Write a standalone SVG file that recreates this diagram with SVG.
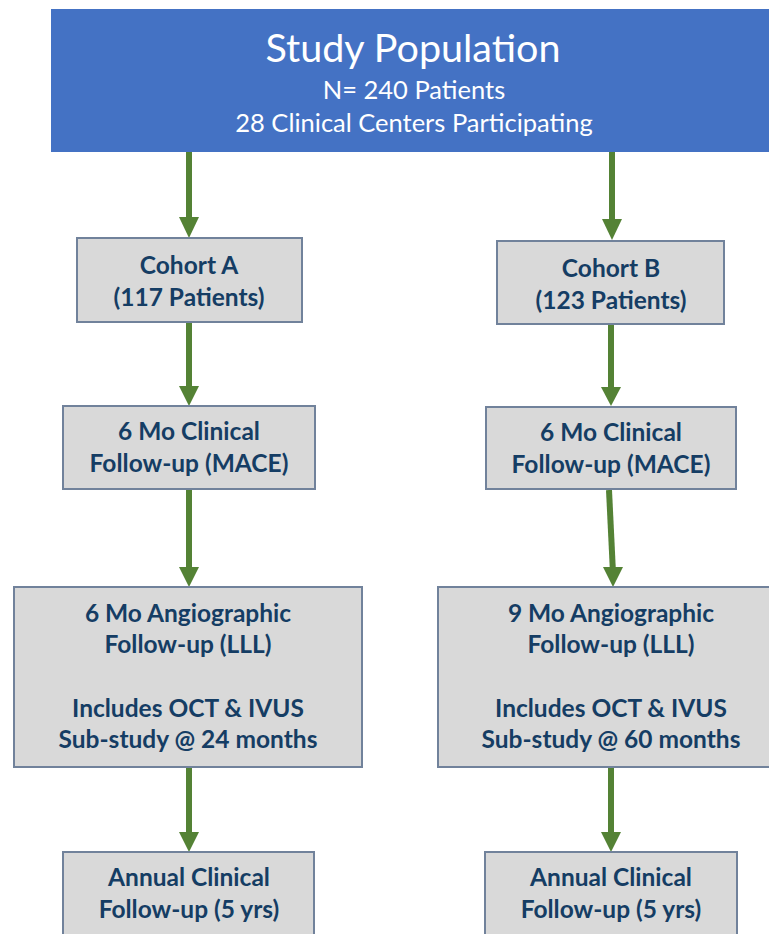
<svg xmlns="http://www.w3.org/2000/svg" width="769" height="934" viewBox="0 0 769 934">
<style>
.box{fill:#D9D9D9;stroke:#71829B;stroke-width:2}
.t{font-family:Lato,"Open Sans","Liberation Sans",sans-serif;font-weight:bold;font-size:24.5px;fill:#153D64;text-anchor:middle}
.h{font-family:Lato,"Open Sans","Liberation Sans",sans-serif;fill:#FFFFFF;text-anchor:middle}
.sh{stroke:#548235;stroke-width:6;fill:none}
.hd{fill:#548235}
</style>
<rect width="769" height="934" fill="#FFFFFF"/>
<g id="study-population">
<rect x="51" y="9" width="720" height="143" fill="#4472C4"/>
<text class="h" x="413" y="62" font-size="39.5">Study Population</text>
<text class="h" x="414" y="99" font-size="25.5">N= 240 Patients</text>
<text class="h" x="414" y="132" font-size="25.5">28 Clinical Centers Participating</text>
</g>
<g id="connectors">
<line class="sh" x1="189" y1="152" x2="189" y2="219"/><polygon class="hd" points="179,217 199,217 189,238"/>
<line class="sh" x1="612" y1="152" x2="612" y2="221"/><polygon class="hd" points="602,219 622,219 612,240"/>
<line class="sh" x1="189" y1="322" x2="189" y2="388"/><polygon class="hd" points="179,386 199,386 189,406"/>
<line class="sh" x1="611" y1="324" x2="611" y2="389"/><polygon class="hd" points="601,387 621,387 611,406"/>
<line class="sh" x1="189" y1="490" x2="189" y2="569"/><polygon class="hd" points="179,567 199,567 189,587"/>
<line class="sh" x1="609" y1="490" x2="612.8" y2="569"/><polygon class="hd" points="603,567 623,567 613,587"/>
<line class="sh" x1="189" y1="767" x2="189" y2="834"/><polygon class="hd" points="179,832 199,832 189,852"/>
<line class="sh" x1="611" y1="767" x2="611" y2="834"/><polygon class="hd" points="601,832 621,832 611,852"/>
</g>
<g id="cohort-a">
<rect class="box" x="77" y="238" width="225" height="84"/>
<text class="t" x="189" y="274">Cohort A</text>
<text class="t" x="189" y="306">(117 Patients)</text>
</g>
<g id="cohort-b">
<rect class="box" x="497" y="241" width="227" height="83"/>
<text class="t" x="611" y="277">Cohort B</text>
<text class="t" x="611" y="309">(123 Patients)</text>
</g>
<g id="clinical-a">
<rect class="box" x="63" y="406" width="252" height="83"/>
<text class="t" x="189" y="440">6 Mo Clinical</text>
<text class="t" x="189" y="472">Follow-up (MACE)</text>
</g>
<g id="clinical-b">
<rect class="box" x="486" y="407" width="250" height="82"/>
<text class="t" x="611" y="441">6 Mo Clinical</text>
<text class="t" x="611" y="473">Follow-up (MACE)</text>
</g>
<g id="angio-a">
<rect class="box" x="14" y="587" width="348" height="180"/>
<text class="t" x="188" y="622">6 Mo Angiographic</text>
<text class="t" x="188" y="653">Follow-up (LLL)</text>
<text class="t" x="188" y="717">Includes OCT &amp; IVUS</text>
<text class="t" x="188" y="748">Sub-study @ 24 months</text>
</g>
<g id="angio-b">
<rect class="box" x="438" y="587" width="348" height="180"/>
<text class="t" x="611" y="622">9 Mo Angiographic</text>
<text class="t" x="611" y="653">Follow-up (LLL)</text>
<text class="t" x="611" y="717">Includes OCT &amp; IVUS</text>
<text class="t" x="611" y="748">Sub-study @ 60 months</text>
</g>
<g id="annual-a">
<rect class="box" x="63" y="852" width="251" height="100"/>
<text class="t" x="189" y="886">Annual Clinical</text>
<text class="t" x="189" y="918">Follow-up (5 yrs)</text>
</g>
<g id="annual-b">
<rect class="box" x="485" y="852" width="252" height="100"/>
<text class="t" x="611" y="886">Annual Clinical</text>
<text class="t" x="611" y="918">Follow-up (5 yrs)</text>
</g>
</svg>
